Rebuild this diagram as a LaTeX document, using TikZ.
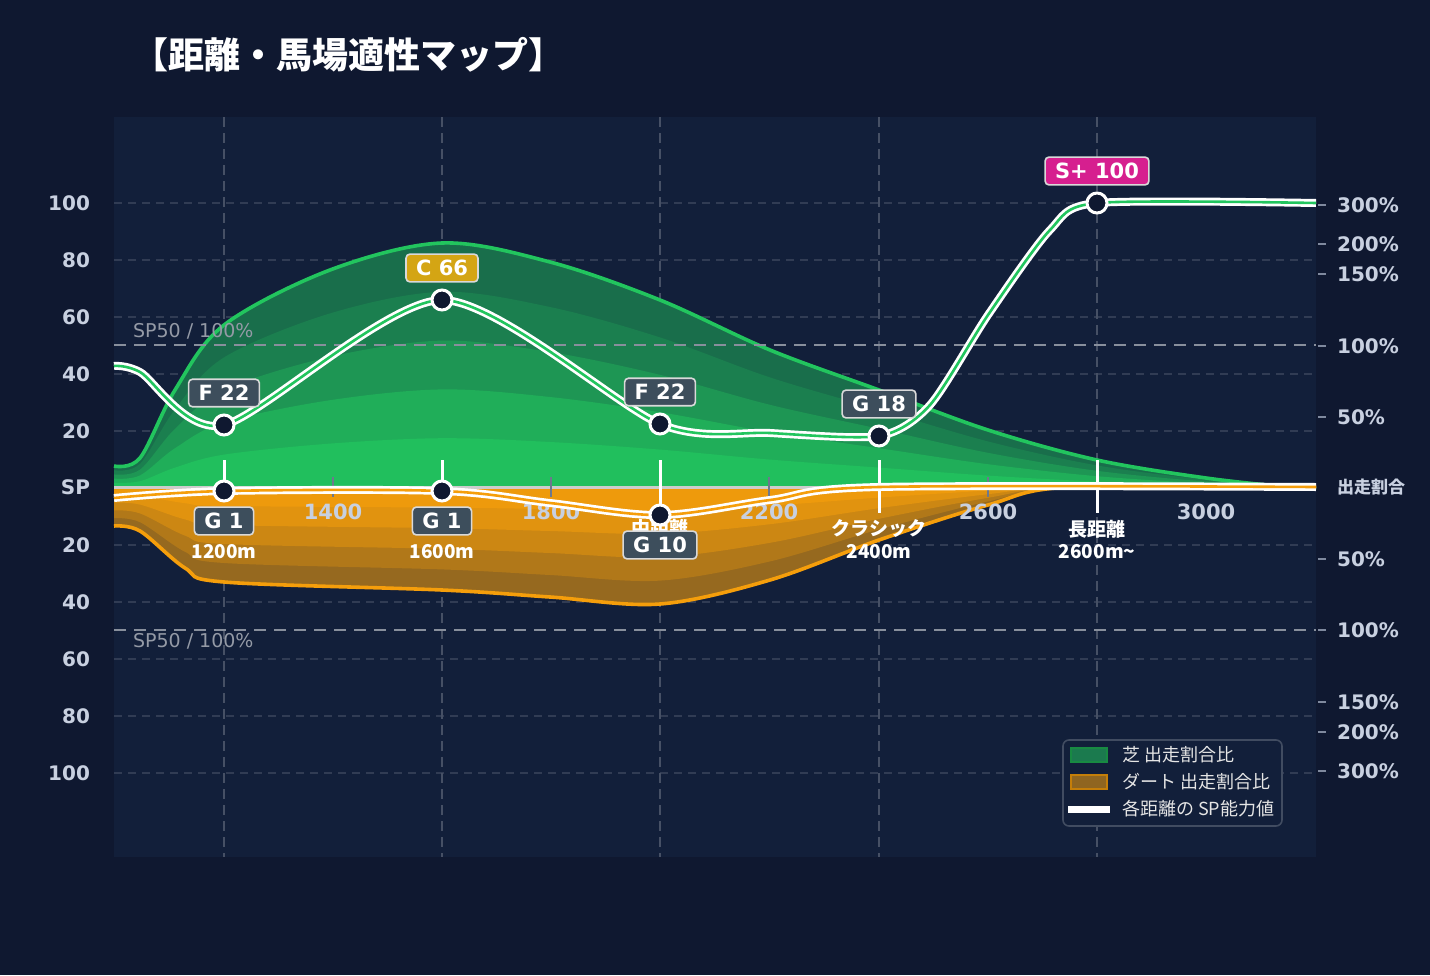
\documentclass[tikz,border=0pt]{standalone}
\usepackage{fontspec}
\setmainfont{Noto Sans CJK JP}
\newfontfamily\vf{DejaVu Sans}
\begin{document}
\begin{tikzpicture}[x=0.5pt,y=-0.5pt,
  grid/.style={draw=white!13!bgB,dash pattern=on 4pt off 3pt,line width=0.6pt},
  vgrid/.style={draw=white!22!bgB,dash pattern=on 5pt off 3pt,line width=1pt},
  lab/.style={font=\vf\bfseries\fontsize{10}{12}\selectfont,text=axc},
  badge/.style={draw=white!85!black,line width=0.8pt,rounded corners=2pt,font=\vf\bfseries\fontsize{10.5}{12}\selectfont,text=white,inner xsep=5pt,inner ysep=3pt},
  mk/.style={circle,draw=white,line width=1.5pt,fill=bgA,minimum size=10pt,inner sep=0pt},
  tk/.style={draw=white,line width=1.5pt},
  dtk/.style={draw=axc!50!bgB,line width=1pt},
  cat/.style={font=\bfseries\fontsize{9.5}{11}\selectfont,text=white,align=center}]
\definecolor{bgA}{HTML}{0F1830}
\definecolor{bgB}{HTML}{121F3A}
\definecolor{axc}{HTML}{C8D0E0}
\definecolor{gr}{HTML}{22C55E}
\definecolor{og}{HTML}{F59E0B}
\definecolor{gold}{HTML}{D4A514}
\definecolor{pink}{HTML}{D61F8F}
\definecolor{bgray}{HTML}{3D4E5C}
\useasboundingbox (0,0) rectangle (1430,975);
\fill[bgA] (0,0) rectangle (1430,975);
\fill[bgB] (114,117) rectangle (1316,857);
\node[anchor=west,font=\bfseries\fontsize{18}{20}\selectfont,text=white] (title) at (125,55) {【距離・馬場適性マップ】};
% grid
\foreach \y in {203,260,317,374,431,545,602,659,716,773} \draw[grid] (114,\y) -- (1316,\y);
\foreach \x in {224,442,660,879,1097} \draw[vgrid] (\x,117) -- (\x,857);
% layers
\def\gpts{(114,466) (140,458) (175,390) (224,325) (330,270) (442,243) (550,262) (660,300) (770,350) (879,390) (988,430) (1097,460) (1206,478) (1290,487) (1316,487)}
\def\opts{(114,526) (140,531) (185,568) (224,582) (442,590) (550,597) (660,604) (770,580) (879,540) (988,505) (1070,487) (1316,487)}
\foreach \f/\c in {1/25,0.8/40,0.6/60,0.4/80,0.2/95}{
  \begin{scope}[shift={(0,487)},yscale=\f,shift={(0,-487)}]
  \fill[gr!\c!bgB!70!gr] plot[smooth,tension=0.55] coordinates {\gpts} -- (1316,487) -- (114,487) -- cycle;
  \end{scope}}
\foreach \f/\c in {1/30,0.8/50,0.6/70,0.4/85,0.2/95}{
  \begin{scope}[shift={(0,487)},yscale=\f,shift={(0,-487)}]
  \fill[og!\c!bgB!60!og] plot[smooth,tension=0.55] coordinates {\opts} -- (1316,487) -- (114,487) -- cycle;
  \end{scope}}
\draw[gr,line width=1.8pt] plot[smooth,tension=0.55] coordinates {\gpts};
\draw[og,line width=1.8pt] plot[smooth,tension=0.55] coordinates {\opts};
\draw[white!80!black,line width=1.5pt] (114,487) -- (1316,487);
% SP50 lines
\draw[draw=white!50!bgB,dash pattern=on 6pt off 4pt,line width=0.8pt] (114,345) -- (1316,345) (114,630) -- (1316,630);
\node[anchor=west,font=\vf\fontsize{9.5}{11}\selectfont,text=white!55!bgB] (s1) at (126,331) {SP50 / 100\%};
\node[anchor=west,font=\vf\fontsize{9.5}{11}\selectfont,text=white!55!bgB] (s2) at (126,641) {SP50 / 100\%};
% ticks
\foreach \x in {333,551,769,988} \draw[dtk] (\x,477) -- (\x,497);
\foreach \x in {224,442,660,879,1097} \draw[tk] (\x,460) -- (\x,487);
\draw[tk] (660,487) -- (660,515);
\draw[tk] (879,487) -- (879,513);
\draw[tk] (1097,487) -- (1097,513);
% axis labels
\foreach \t/\x in {1400/333,1800/551,2200/769,2600/988,3000/1206} \node[lab,font=\vf\bfseries\fontsize{10.5}{12}\selectfont] at (\x,512) {\t};
\node[cat] (c1b) at (224,552) {1200m};
\node[cat] (c2b) at (442,552) {1600m};
\node[cat] (c3) at (660,528) {中距離};
\node[cat] (c4) at (879,529) {クラシック};
\node[cat] (c4b) at (879,552) {2400m};
\node[cat] (c5) at (1097,529) {長距離};
\node[cat] (c5b) at (1097,552) {2600m\textasciitilde};
% curves
\draw[white,line width=4pt] plot[smooth,tension=0.55] coordinates {(114,498) (224,491) (442,491) (550,503) (660,515) (770,500) (879,487) (1316,487)};
\draw[og,line width=1.3pt] plot[smooth,tension=0.55] coordinates {(114,498) (224,491) (442,491) (550,503) (660,515) (770,500) (879,487) (1316,487)};
\def\spts{(114,366) (140,372) (224,425) (442,300) (660,424) (770,433) (879,436) (930,405) (988,315) (1050,230) (1097,203) (1316,203)}
\draw[white,line width=4pt] plot[smooth,tension=0.45] coordinates {\spts};
\draw[gr,line width=1.3pt] plot[smooth,tension=0.45] coordinates {\spts};
% markers
\node[mk] (m1) at (224,425) {};
\node[mk] (m2) at (442,300) {};
\node[mk] (m3) at (660,424) {};
\node[mk] (m4) at (879,436) {};
\node[mk] (m5) at (1097,203) {};
\node[mk] (d1) at (224,491) {};
\node[mk] (d2) at (442,491) {};
\node[mk] (d3) at (660,515) {};
% badges
\node[badge,fill=bgray] (b1) at (224,393) {F 22};
\node[badge,fill=gold] (b2) at (442,268) {C 66};
\node[badge,fill=bgray] (b3) at (660,392) {F 22};
\node[badge,fill=bgray] (b4) at (879,404) {G 18};
\node[badge,fill=pink] (b5) at (1097,171) {S+ 100};
\node[badge,fill=bgray] (g1) at (224,521) {G 1};
\node[badge,fill=bgray] (g2) at (442,521) {G 1};
\node[badge,fill=bgray] (g3) at (660,545) {G 10};
% left axis
\foreach \t/\y in {100/203,80/260,60/317,40/374,20/431,SP/487,20/545,40/602,60/659,80/716,100/773} \node[lab,anchor=east] at (97,\y) {\t};
% right axis
\foreach \t/\y in {300\%/205,200\%/244,150\%/274,100\%/346,50\%/417,50\%/559,100\%/630,150\%/702,200\%/732,300\%/771} {
  \draw[axc!60!bgB,line width=0.8pt] (1318,\y) -- (1326,\y);
  \node[lab,anchor=west] at (1330,\y) {\t};}
\node[anchor=west,font=\bfseries\fontsize{8.5}{10}\selectfont,text=axc] (ra) at (1330,487) {出走割合};
% legend
\draw[draw=white!20!bgB,fill=bgB,rounded corners=3pt,line width=0.8pt] (1063,740) rectangle (1282,826);
\draw[fill=gr!55!bgB,draw=gr!70!black,line width=0.8pt] (1071,748) rectangle (1107,762);
\node[anchor=west,font=\fontsize{9}{10}\selectfont,text=white!90!black] (l1) at (1115,755) {芝 出走割合比};
\draw[fill=og!55!bgB,draw=og!80!black,line width=0.8pt] (1071,775) rectangle (1107,789);
\node[anchor=west,font=\fontsize{9}{10}\selectfont,text=white!90!black] (l2) at (1115,782) {ダート 出走割合比};
\draw[white,line width=3.5pt] (1068,809) -- (1110,809);
\node[anchor=west,font=\fontsize{9}{10}\selectfont,text=white!90!black] (l3) at (1115,809) {各距離の SP能力値};
\end{tikzpicture}
\end{document}
